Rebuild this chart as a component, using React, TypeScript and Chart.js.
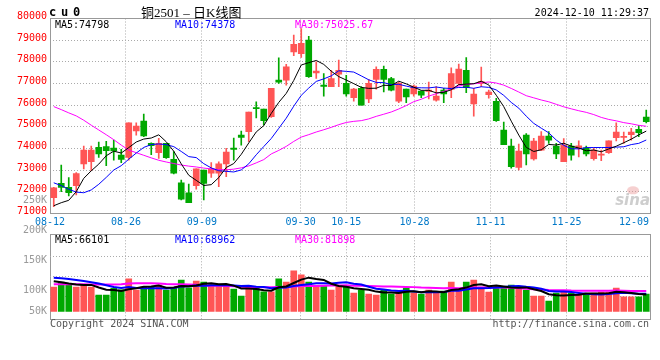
import React, { useEffect, useRef } from 'react';
import { Chart, registerables } from 'chart.js';
Chart.register(...registerables);

// ---------------- DATA ----------------
const dates = [
  '08-12','08-13','08-14','08-15','08-16','08-19','08-20','08-21','08-22','08-23',
  '08-26','08-27','08-28','08-29','08-30','09-02','09-03','09-04','09-05','09-06',
  '09-09','09-10','09-11','09-12','09-13','09-18','09-19','09-20','09-23','09-24',
  '09-25','09-26','09-27','09-30','10-08','10-09','10-10','10-11','10-14','10-15',
  '10-16','10-17','10-18','10-21','10-22','10-23','10-24','10-25','10-28','10-29',
  '10-30','10-31','11-01','11-04','11-05','11-06','11-07','11-08','11-11','11-12',
  '11-13','11-14','11-15','11-18','11-19','11-20','11-21','11-22','11-25','11-26',
  '11-27','11-28','11-29','12-02','12-03','12-04','12-05','12-06','12-09','12-10'];

const opens = [
  71720,72380,72200,72280,73280,73380,74050,74080,74010,73690,
  73580,74810,75260,74230,73800,74230,73490,72410,71950,72280,
  73000,72850,72850,73280,74010,74610,74770,75890,75810,75460,
  77150,77150,78460,78380,79000,77490,76920,76850,77430,77000,
  76340,76770,76280,77180,77650,77230,76180,76740,76510,76650,
  76630,76230,76690,76720,77000,77610,76050,77000,76480,76170,
  74850,74110,73120,74610,73510,73920,74570,74110,73380,74110,
  74000,74030,73520,73690,73800,74490,74510,74630,74880,75450];
const highs = [
  72200,73230,72650,72880,74110,74110,74290,74320,74380,73950,
  75180,75180,75580,74260,74460,74230,73850,72540,72350,73050,
  73000,73340,73380,74000,74480,74800,75680,76150,75810,76770,
  78180,77880,79230,79540,79180,78000,77460,77610,78080,77380,
  76770,76850,77180,77770,77800,77280,77060,76740,76920,76660,
  77060,76850,76770,77720,77890,78200,76770,77750,76690,76310,
  75210,74430,74200,74680,74460,74770,74770,74230,74450,74230,
  74350,74110,74030,73920,74350,75180,74750,74920,75060,75770];
const lows = [
  71310,72000,71800,71850,73050,72970,73580,73200,73460,73340,
  73460,74610,74540,73710,73540,73540,72820,71620,71490,72120,
  71620,72660,72230,72690,73460,74150,74310,75410,75080,75430,
  77000,76920,78280,78200,77280,77230,76410,76850,76850,76410,
  76180,76000,76110,76740,76610,76650,76110,76110,76410,76340,
  76290,76180,76110,76340,76920,76570,75490,76850,76320,75250,
  74170,73080,73000,73230,73460,73890,74230,73520,73380,73460,
  73610,73650,73460,73430,73770,74340,74230,74380,74540,75180];
const closes = [
  72180,72200,71950,72830,73920,73920,73740,73890,73880,73490,
  75180,75030,74570,74120,74230,73570,72850,71650,71490,73050,
  72380,73050,73280,73830,73950,74510,75680,75830,75280,76770,
  77060,77770,78810,78850,77310,77570,76860,77230,77610,76510,
  76740,76000,77000,77650,77180,76690,77000,76380,76880,76460,
  76690,76410,76510,77460,77660,76800,76510,77080,76600,75280,
  74170,73150,73880,73740,74340,74570,74380,73740,74150,73690,
  74120,73740,73920,73740,74350,74750,74540,74750,74720,75230];
const volumes = [
  98000,118000,109000,98000,109000,98000,66000,66000,93000,87000,
  131000,86000,98000,98000,106000,86000,93000,126000,95000,122000,
  118000,106000,102000,102000,90000,62000,102000,93000,79000,79000,
  131000,118000,163000,147000,118000,102000,102000,86000,102000,102000,
  74000,86000,70000,66000,86000,70000,79000,94000,74000,70000,
  86000,74000,82000,118000,86000,118000,126000,98000,78000,98000,
  98000,106000,94000,86000,62000,62000,42000,74000,78000,74000,
  66000,70000,74000,78000,78000,94000,59000,59000,59000,70000];

// moving-average values before a full window exists
const ma5Head = [71350, 71490, 71600, 72000];
const ma10Head = [72410, 72280, 72110, 71980, 71950, 72080, 72340, 72660, 73000];
const ma30Head = [
  75930,75790,75640,75500,75300,75070,74850,74630,74400,74150,
  73920,73800,73680,73560,73450,73370,73300,73230,73180,73140,
  73090,73050,73020,73010,73040,73100,73190,73330,73480];
const vma5Head = [121000, 117000, 112000, 108000];
const vma10Head = [135000, 133000, 130000, 126000, 122000, 117000, 112000, 105000, 98000];
const vma30Head = [
  109000,109000,109000,109000,109000,108000,108000,108000,108000,109000,
  112000,113000,113000,113000,112000,110000,109000,109000,108000,107000,
  104000,103000,103000,102000,101000,99000,98000,98000,97000];

const dateTickIdx = [0, 10, 20, 33, 39, 48, 58, 68, 78];
const volTickLabels = ['250K', '200K', '150K', '100K', '50K'];
const priceLegend = ['MA5:74798', 'MA10:74378', 'MA30:75025.67'];
const volLegend = ['MA5:66101', 'MA10:68962', 'MA30:81898'];
const titleCode = 'cu0';
const titleName = '铜2501 – 日K线图';
const timestamp = '2024-12-10 11:29:37';
const copyrightText = 'Copyright 2024 SINA.COM';
const urlText = 'http://finance.sina.com.cn';

// ---------------- STYLE ----------------
const UP = '#ff5555';
const DOWN = '#00a800';
const MONO = '"DejaVu Sans Mono", monospace';
const LEGEND_COLORS = ['#000000', '#0000ff', '#ff00ff'];
const LEGEND_X = [55, 175, 295];

function movingAvg(values: number[], n: number, head: number[]) {
  return values.map((_, i) => {
    if (i < n - 1) return head[i];
    let s = 0;
    for (let k = i - n + 1; k <= i; k++) s += values[k];
    return s / n;
  });
}

const candleColors = closes.map((c, i) => (c >= opens[i] ? UP : DOWN));

const framePlugin = {
  id: 'frame',
  beforeDatasetsDraw(chart: any) {
    const { ctx, chartArea } = chart;
    const l = Math.floor(chartArea.left) + 0.5;
    const t = Math.floor(chartArea.top) + 0.5;
    const w = Math.round(chartArea.right - chartArea.left);
    const h = Math.round(chartArea.bottom - chartArea.top);
    ctx.save();
    ctx.strokeStyle = '#999999';
    ctx.lineWidth = 1;
    ctx.strokeRect(l, t, w, h);
    ctx.restore();
  },
};

const mainTextPlugin = {
  id: 'mainText',
  beforeDatasetsDraw(chart: any) {
    const { ctx, chartArea } = chart;
    ctx.save();
    // watermark
    ctx.fillStyle = 'rgba(235,150,150,0.45)';
    ctx.beginPath();
    ctx.ellipse(chartArea.right - 17, chartArea.bottom - 23, 6, 4, 0, 0, Math.PI * 2);
    ctx.fill();
    ctx.fillStyle = 'rgba(190,190,190,0.75)';
    ctx.font = 'italic bold 15px "DejaVu Sans", sans-serif';
    ctx.textAlign = 'right';
    ctx.textBaseline = 'alphabetic';
    ctx.fillText('sina', chartArea.right, chartArea.bottom - 8);
    ctx.restore();
  },
  afterDraw(chart: any) {
    const { ctx, chartArea } = chart;
    ctx.save();
    ctx.textBaseline = 'alphabetic';
    ctx.textAlign = 'left';
    ctx.fillStyle = '#000';
    ctx.font = 'bold 12px ' + MONO;
    for (let k = 0; k < titleCode.length; k++) ctx.fillText(titleCode[k], 49 + k * 12, 16);
    ctx.font = '13px "Liberation Serif", "Noto Sans CJK SC", serif';
    ctx.fillText(titleName, 141, 17);
    ctx.font = '10px ' + MONO;
    ctx.textAlign = 'right';
    ctx.fillText(timestamp, 649, 16);
    ctx.textAlign = 'left';
    priceLegend.forEach((t, k) => {
      ctx.fillStyle = LEGEND_COLORS[k];
      ctx.fillText(t, LEGEND_X[k], 28);
    });
    // date labels, placed through the grid scale and kept inside the frame on the right
    const xs = chart.scales.xg;
    ctx.fillStyle = '#0078c8';
    ctx.textBaseline = 'middle';
    ctx.textAlign = 'center';
    dateTickIdx.forEach((idx) => {
      const label = dates[idx];
      const w = ctx.measureText(label).width;
      let x = xs.getPixelForValue(idx);
      if (x + w / 2 > chartArea.right - 1) x = chartArea.right - 1 - w / 2;
      ctx.fillText(label, x, chartArea.bottom + 9);
    });
    ctx.restore();
  },
};

const volTextPlugin = {
  id: 'volText',
  beforeDatasetsDraw(chart: any) {
    const { ctx, chartArea } = chart;
    ctx.save();
    ctx.strokeStyle = '#aaaaaa';
    ctx.lineWidth = 1;
    ctx.setLineDash([1, 2]);
    [21.4, 41.4, 61.4].forEach((dy) => {
      const y = Math.round(chartArea.top + dy) + 0.5;
      ctx.beginPath();
      ctx.moveTo(chartArea.left, y);
      ctx.lineTo(chartArea.right, y);
      ctx.stroke();
    });
    ctx.restore();
  },
  afterDraw(chart: any) {
    const { ctx } = chart;
    ctx.save();
    ctx.font = '10px ' + MONO;
    ctx.textBaseline = 'middle';
    ctx.textAlign = 'right';
    ctx.fillStyle = '#999999';
    const ys = [10, 40, 70, 100.5, 121];
    volTickLabels.forEach((t, k) => ctx.fillText(t, 47, ys[k]));
    ctx.textBaseline = 'alphabetic';
    ctx.textAlign = 'left';
    volLegend.forEach((t, k) => {
      ctx.fillStyle = LEGEND_COLORS[k];
      ctx.fillText(t, LEGEND_X[k], 52.5);
    });
    ctx.fillStyle = '#555555';
    ctx.fillText(copyrightText, 50, 137);
    ctx.textAlign = 'right';
    ctx.fillText(urlText, 649, 137);
    ctx.restore();
  },
};

function gridAxis(height: number) {
  return {
    type: 'linear',
    axis: 'x',
    position: 'bottom',
    offset: false,
    min: 0,
    max: dates.length - 1,
    afterBuildTicks: (s: any) => {
      s.ticks = dateTickIdx.map((v) => ({ value: v }));
    },
    ticks: { display: false },
    grid: {
      offset: false,
      drawTicks: false,
      lineWidth: 1,
      color: (ctx: any) =>
        ctx.tick && (ctx.tick.value === 0 || ctx.tick.value === 78) ? 'rgba(0,0,0,0)' : '#aaaaaa',
    },
    border: { display: false, dash: [1, 2] },
    afterFit: (s: any) => {
      s.height = height;
      s.paddingLeft = 0;
      s.paddingRight = 0;
    },
  };
}

export default function App() {
  const mainRef = useRef<HTMLCanvasElement>(null);
  const volRef = useRef<HTMLCanvasElement>(null);

  useEffect(() => {
    const ma5 = movingAvg(closes, 5, ma5Head);
    const ma10 = movingAvg(closes, 10, ma10Head);
    const ma30 = movingAvg(closes, 30, ma30Head);
    const vma5 = movingAvg(volumes, 5, vma5Head);
    const vma10 = movingAvg(volumes, 10, vma10Head);
    const vma30 = movingAvg(volumes, 30, vma30Head);

    const line = (data: number[], color: string, width: number) => ({
      type: 'line' as const,
      data,
      borderColor: color,
      borderWidth: width,
      pointRadius: 0,
      tension: 0,
      fill: false,
      xAxisID: 'x',
      yAxisID: 'y',
    });

    const main = new Chart(mainRef.current!, {
      type: 'bar',
      data: {
        labels: dates,
        datasets: [
          line(ma5, '#000000', 1),
          line(ma10, '#0000ff', 1),
          line(ma30, '#ff00ff', 1),
          {
            type: 'bar',
            data: opens.map((o, i) => [o, closes[i]]),
            backgroundColor: candleColors,
            barThickness: 6,
            minBarLength: 1,
            grouped: false,
            xAxisID: 'x',
            yAxisID: 'y',
          },
          {
            type: 'bar',
            data: lows.map((l, i) => [l, highs[i]]),
            backgroundColor: candleColors,
            barThickness: 1,
            grouped: false,
            xAxisID: 'x',
            yAxisID: 'y',
          },
        ] as any,
      },
      options: {
        animation: false,
        responsive: false,
        events: [],
        layout: { padding: { top: 18.5, right: 10, left: 0, bottom: 0 } },
        plugins: { legend: { display: false }, tooltip: { enabled: false } },
        scales: {
          x: { type: 'category', display: false, offset: true },
          xg: gridAxis(26.7) as any,
          y: {
            type: 'linear',
            min: 71000,
            max: 80000,
            ticks: {
              stepSize: 1000,
              color: '#ff0000',
              padding: 3,
              labelOffset: -2,
              font: { family: MONO, size: 10 },
              callback: (v: any) => String(v),
            },
            grid: {
              drawTicks: false,
              color: (ctx: any) =>
                ctx.tick && (ctx.tick.value === 71000 || ctx.tick.value === 80000)
                  ? 'rgba(0,0,0,0)'
                  : '#aaaaaa',
            },
            border: { display: false, dash: [1, 2] },
            afterFit: (s: any) => {
              s.width = 50;
              s.paddingTop = 0;
              s.paddingBottom = 0;
            },
          },
        },
      } as any,
      plugins: [framePlugin, mainTextPlugin],
    });

    const vol = new Chart(volRef.current!, {
      type: 'bar',
      data: {
        labels: dates,
        datasets: [
          line(vma5, '#000000', 2),
          line(vma10, '#0000ff', 2),
          line(vma30, '#ff00ff', 2),
          {
            type: 'bar',
            data: volumes,
            backgroundColor: candleColors,
            barThickness: 6,
            xAxisID: 'x',
            yAxisID: 'y',
          },
        ] as any,
      },
      options: {
        animation: false,
        responsive: false,
        events: [],
        layout: { padding: { top: 44.3, right: 10, left: 50, bottom: 41 } },
        plugins: { legend: { display: false }, tooltip: { enabled: false } },
        scales: {
          x: { type: 'category', display: false, offset: true },
          xg: gridAxis(0) as any,
          y: { type: 'linear', display: false, min: -30000, max: 308800 },
        },
      } as any,
      plugins: [framePlugin, volTextPlugin],
    });

    return () => {
      main.destroy();
      vol.destroy();
    };
  }, []);

  return (
    <div
      style={{
        position: 'fixed',
        left: 0,
        top: 0,
        width: 660,
        height: 360,
        background: '#ffffff',
        overflow: 'hidden',
      }}
    >
      <canvas
        ref={mainRef}
        width={660}
        height={240}
        style={{ position: 'absolute', left: 0, top: 0, width: 660, height: 240 }}
      />
      <canvas
        ref={volRef}
        width={660}
        height={170}
        style={{ position: 'absolute', left: 0, top: 190, width: 660, height: 170 }}
      />
    </div>
  );
}
